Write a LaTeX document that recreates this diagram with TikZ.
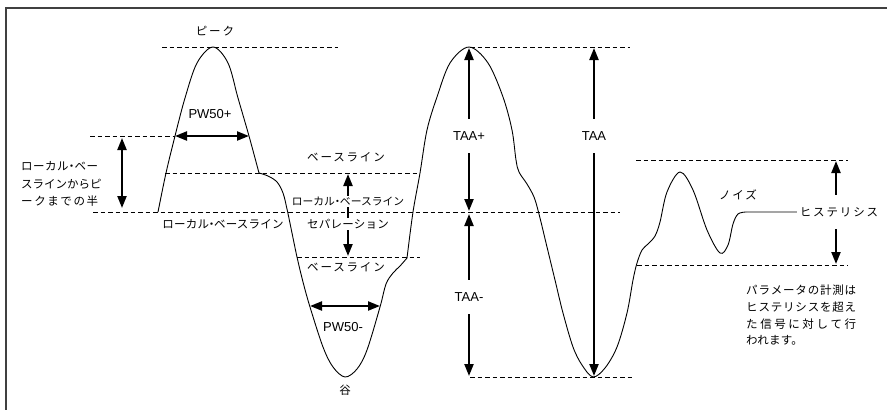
\documentclass[tikz,border=0pt]{standalone}
\usepackage{fontspec}
\setmainfont{Liberation Sans}
\newfontfamily\jpa[LetterSpace=2]{Noto Sans CJK JP}
\newfontfamily\jpc[LetterSpace=16]{Noto Sans CJK JP}
\newfontfamily\jpn{Noto Sans CJK JP}
\newcommand\ndot{\makebox[5pt]{・}}
\usetikzlibrary{arrows.meta}
\definecolor{framec}{HTML}{404040}
\tikzset{
  dotline/.style={line width=1pt, dash pattern=on 4.5pt off 3pt},
  wave/.style={line width=0.9pt, line join=round},
  dimarrow/.style={line width=2.2pt, {Triangle[length=12pt,width=9pt]}-{Triangle[length=12pt,width=9pt]}},
  jtxt/.style={font=\jpa\fontsize{11.5}{13}\selectfont, inner sep=1pt},
  jnarrow/.style={font=\jpn\fontsize{10.8}{13}\selectfont, inner sep=1pt},
  jwide/.style={font=\jpc\fontsize{11.5}{13}\selectfont, inner sep=1pt},
  ltxt/.style={font=\fontsize{13}{15}\selectfont, inner sep=1pt},
  gap/.style={fill=white, minimum height=34pt, inner xsep=2pt},
}
\begin{document}
\begin{tikzpicture}[x=1pt, y=-1pt]
\useasboundingbox (0,0) rectangle (887,410);
% frame
\draw[framec, line width=2pt] (6,410) -- (6,8) -- (887,8);

% dashed reference lines
\draw[dotline] (162,47) -- (338,47);
\draw[dotline] (90,136) -- (175,136);
\draw[dotline] (165,173) -- (420,173);
\draw[dotline] (93,212) -- (620,212);
\draw[dotline] (297,257) -- (420,257);
\draw[dotline] (470,47) -- (630,47);
\draw[dotline] (470,377) -- (632,377);
\draw[dotline] (636,160) -- (848,160);
\draw[dotline] (637,265) -- (848,265);

% waveform
\draw[wave] plot[smooth, tension=0.55] coordinates {(158,212) (166,173) (175,136) (185,98) (197,63) (213,47) (228,63) (238,98) (249,136) (259,173)};
\draw[wave] plot[smooth, tension=0.55] coordinates {(259,173) (268,176) (277,182) (283,193) (287,209) (292,233) (297,257) (303,282) (310,307) (323,347) (333,367) (345,377) (357,369) (367,350) (380,307) (386,284) (393,273) (400,266) (407,258)};
\draw[wave] plot[smooth, tension=0.55] coordinates {(407,258) (413,212) (420,173) (427,130) (437,97) (450,63) (469,47) (488,63) (503,97) (512,130) (516,160) (519,172) (527,184) (534,197) (539,214) (547,247) (555,280) (563,313) (573,347) (582,365) (593,377) (605,368) (617,347) (627,313) (633,280) (637,263) (642,250) (648,244) (655,236) (660,222) (667,192) (680,172) (693,190) (707,230) (720,253) (728,245) (733,224) (738,214) (746,212)};

% coordinates for dimension arrows
\coordinate (pwpL) at (175,136);
\coordinate (pwpR) at (249,136);
\coordinate (pwmL) at (310,306);
\coordinate (pwmR) at (380,306);
\coordinate (halfT) at (122,138);
\coordinate (halfB) at (122,208);
\coordinate (sepT) at (348,174);
\coordinate (sepB) at (348,256);
\coordinate (taapT) at (469,48);
\coordinate (taapB) at (469,211);
\coordinate (taamT) at (469,214);
\coordinate (taamB) at (469,376);
\coordinate (taaT) at (594,48);
\coordinate (taaB) at (594,376);
\coordinate (hyT) at (836,161);
\coordinate (hyB) at (836,264);

\draw[dimarrow] (pwpL) -- (pwpR);
\draw[dimarrow] (pwmL) -- (pwmR);
\draw[dimarrow] (halfT) -- (halfB);
\draw[dimarrow] (sepT) -- node[jnarrow, fill=white, pos=0.34] (lbsep1) {ローカル\ndot ベースライン}
                            node[jtxt, fill=white, pos=0.61] (lbsep2) {セパレーション} (sepB);
\draw[dimarrow] (taapT) -- node[ltxt, gap, pos=0.54] (taaplbl) {TAA+} (taapB);
\draw[dimarrow] (taamT) -- node[ltxt, gap, pos=0.51] (taamlbl) {TAA-} (taamB);
\draw[dimarrow] (taaT) -- node[ltxt, gap, pos=0.267] (taalbl) {TAA} (taaB);
\draw[dimarrow] (hyT) -- node[jwide, gap, pos=0.495, xshift=3pt] (hyst) {ヒステリシス} (hyB);

% noise tail into hysteresis label
\draw[wave] (746,212) -- (hyst.west);

% labels
\node[jwide] (peaklbl) at (215,31) {ピーク};
\node[ltxt] (pwplbl) at (210,114) {PW50+};
\node[ltxt] (pwmlbl) at (343,327) {PW50-};
\node[jwide] (base1) at (346,157) {ベースライン};
\node[jwide] (base2) at (346,267) {ベースライン};
\node[jtxt] (lbleft) at (223,224) {ローカル\ndot ベースライン};
\node[jtxt] (tani) at (345,390) {谷};
\node[jwide] (noise) at (738,195) {ノイズ};

\node[jtxt, anchor=west] (half1) at (20,166) {\hbox to 77pt{ロ\hfil ー\hfil カ\hfil ル\hfil \ndot\hfil ベ\hfil ー}};
\node[jtxt, anchor=west] (half2) at (20,184) {\hbox to 77pt{ス\hfil ラ\hfil イ\hfil ン\hfil か\hfil ら\hfil ピ}};
\node[jtxt, anchor=west] (half3) at (20,201) {\hbox to 77pt{ー\hfil ク\hfil ま\hfil で\hfil の\hfil 半}};

\node[jtxt, anchor=west] (note1) at (745,290) {\hbox to 110pt{パ\hfil ラ\hfil メ\hfil ー\hfil タ\hfil の\hfil 計\hfil 測\hfil は}};
\node[jtxt, anchor=west] (note2) at (745,307) {\hbox to 110pt{ヒ\hfil ス\hfil テ\hfil リ\hfil シ\hfil ス\hfil を\hfil 超\hfil え}};
\node[jtxt, anchor=west] (note3) at (745,324) {\hbox to 110pt{た\hfil 信\hfil 号\hfil に\hfil 対\hfil し\hfil て\hfil 行}};
\node[jtxt, anchor=west] (note4) at (745,340) {われます。};
\end{tikzpicture}
\end{document}
